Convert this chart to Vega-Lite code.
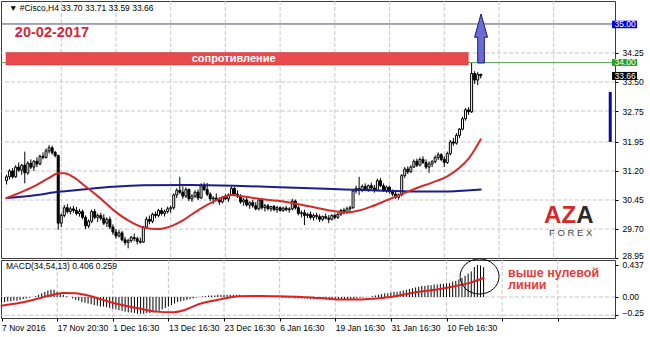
{
"$schema": "https://vega.github.io/schema/vega-lite/v6.json",
"background": "white",
"padding": {"left": 0, "top": 0, "right": 0, "bottom": 0},
"spacing": 2,
"bounds": "flush",
"config": {
 "view": {"stroke": "#3c3c3c", "strokeWidth": 1},
 "font": "Liberation Sans",
 "line": {"strokeJoin": "round", "strokeCap": "round"},
 "axis": {"labelFont": "Liberation Sans", "labelFontSize": 8.5, "labelColor": "#000", "grid": false, "tickColor": "#000", "tickSize": 3, "domain": false, "labelFlush": false, "labelOverlap": false, "labelBound": false}
},
"datasets": {
 "candles": [
{"i":0,"o":30.95,"h":31.10,"l":30.85,"c":31.05,"m":-0.07},
{"i":1,"o":31.05,"h":31.25,"l":30.98,"c":31.20,"m":-0.07},
{"i":2,"o":31.20,"h":31.28,"l":31.00,"c":31.05,"m":-0.06},
{"i":3,"o":31.05,"h":31.35,"l":31.02,"c":31.30,"m":-0.06},
{"i":4,"o":31.30,"h":31.42,"l":31.18,"c":31.22,"m":-0.05},
{"i":5,"o":31.22,"h":31.38,"l":31.10,"c":31.35,"m":-0.05},
{"i":6,"o":31.35,"h":31.70,"l":30.88,"c":31.15,"m":-0.04},
{"i":7,"o":31.15,"h":31.45,"l":31.10,"c":31.40,"m":-0.03},
{"i":8,"o":31.40,"h":31.50,"l":31.25,"c":31.30,"m":-0.02},
{"i":9,"o":31.30,"h":31.48,"l":31.20,"c":31.45,"m":-0.01},
{"i":10,"o":31.45,"h":31.55,"l":31.30,"c":31.38,"m":0.00},
{"i":11,"o":31.38,"h":31.62,"l":31.35,"c":31.58,"m":0.01},
{"i":12,"o":31.58,"h":31.68,"l":31.50,"c":31.55,"m":0.03},
{"i":13,"o":31.55,"h":31.78,"l":31.52,"c":31.72,"m":0.05},
{"i":14,"o":31.72,"h":31.87,"l":31.65,"c":31.80,"m":0.07},
{"i":15,"o":31.80,"h":31.85,"l":31.62,"c":31.68,"m":0.09},
{"i":16,"o":31.68,"h":31.72,"l":31.55,"c":31.60,"m":0.10},
{"i":17,"o":31.60,"h":31.62,"l":29.68,"c":29.85,"m":0.10},
{"i":18,"o":29.85,"h":30.10,"l":29.75,"c":30.05,"m":0.07},
{"i":19,"o":30.05,"h":30.32,"l":30.00,"c":30.25,"m":0.05},
{"i":20,"o":30.25,"h":30.35,"l":30.10,"c":30.15,"m":0.03},
{"i":21,"o":30.15,"h":30.28,"l":30.08,"c":30.22,"m":0.01},
{"i":22,"o":30.22,"h":30.30,"l":30.12,"c":30.18,"m":0.00},
{"i":23,"o":30.18,"h":30.27,"l":30.05,"c":30.10,"m":-0.02},
{"i":24,"o":30.10,"h":30.22,"l":30.02,"c":30.15,"m":-0.04},
{"i":25,"o":30.15,"h":30.20,"l":29.95,"c":30.00,"m":-0.05},
{"i":26,"o":30.00,"h":30.05,"l":29.70,"c":29.78,"m":-0.07},
{"i":27,"o":29.78,"h":29.95,"l":29.72,"c":29.90,"m":-0.08},
{"i":28,"o":29.90,"h":30.20,"l":29.85,"c":30.15,"m":-0.09},
{"i":29,"o":30.15,"h":30.22,"l":29.95,"c":30.00,"m":-0.10},
{"i":30,"o":30.00,"h":30.10,"l":29.88,"c":30.05,"m":-0.11},
{"i":31,"o":30.05,"h":30.12,"l":29.92,"c":29.98,"m":-0.12},
{"i":32,"o":29.98,"h":30.08,"l":29.80,"c":29.85,"m":-0.13},
{"i":33,"o":29.85,"h":30.00,"l":29.75,"c":29.95,"m":-0.13},
{"i":34,"o":29.95,"h":30.02,"l":29.70,"c":29.75,"m":-0.14},
{"i":35,"o":29.75,"h":29.82,"l":29.55,"c":29.62,"m":-0.15},
{"i":36,"o":29.62,"h":29.70,"l":29.45,"c":29.52,"m":-0.16},
{"i":37,"o":29.52,"h":29.68,"l":29.48,"c":29.60,"m":-0.17},
{"i":38,"o":29.60,"h":29.65,"l":29.38,"c":29.42,"m":-0.18},
{"i":39,"o":29.42,"h":29.50,"l":29.28,"c":29.35,"m":-0.19},
{"i":40,"o":29.35,"h":29.45,"l":29.20,"c":29.40,"m":-0.20},
{"i":41,"o":29.40,"h":29.52,"l":29.35,"c":29.48,"m":-0.21},
{"i":42,"o":29.48,"h":29.58,"l":29.38,"c":29.45,"m":-0.21},
{"i":43,"o":29.45,"h":29.50,"l":29.30,"c":29.38,"m":-0.22},
{"i":44,"o":29.38,"h":29.48,"l":29.32,"c":29.36,"m":-0.23},
{"i":45,"o":29.36,"h":29.78,"l":29.34,"c":29.75,"m":-0.23},
{"i":46,"o":29.75,"h":30.02,"l":29.70,"c":29.95,"m":-0.23},
{"i":47,"o":29.95,"h":30.05,"l":29.82,"c":29.90,"m":-0.22},
{"i":48,"o":29.90,"h":30.12,"l":29.85,"c":30.08,"m":-0.22},
{"i":49,"o":30.08,"h":30.15,"l":29.98,"c":30.05,"m":-0.21},
{"i":50,"o":30.05,"h":30.22,"l":30.00,"c":30.18,"m":-0.20},
{"i":51,"o":30.18,"h":30.25,"l":30.05,"c":30.10,"m":-0.19},
{"i":52,"o":30.10,"h":30.20,"l":30.02,"c":30.15,"m":-0.17},
{"i":53,"o":30.15,"h":30.28,"l":30.10,"c":30.22,"m":-0.15},
{"i":54,"o":30.22,"h":30.30,"l":30.12,"c":30.25,"m":-0.13},
{"i":55,"o":30.25,"h":30.62,"l":30.20,"c":30.58,"m":-0.11},
{"i":56,"o":30.58,"h":30.75,"l":30.50,"c":30.70,"m":-0.09},
{"i":57,"o":30.70,"h":31.05,"l":30.60,"c":30.65,"m":-0.07},
{"i":58,"o":30.65,"h":30.80,"l":30.48,"c":30.55,"m":-0.06},
{"i":59,"o":30.55,"h":30.78,"l":30.50,"c":30.72,"m":-0.05},
{"i":60,"o":30.72,"h":30.75,"l":30.42,"c":30.48,"m":-0.04},
{"i":61,"o":30.48,"h":30.60,"l":30.40,"c":30.55,"m":-0.03},
{"i":62,"o":30.55,"h":30.70,"l":30.50,"c":30.65,"m":-0.02},
{"i":63,"o":30.65,"h":30.72,"l":30.45,"c":30.50,"m":-0.01},
{"i":64,"o":30.50,"h":30.88,"l":30.48,"c":30.82,"m":0.00},
{"i":65,"o":30.82,"h":30.90,"l":30.68,"c":30.72,"m":0.01},
{"i":66,"o":30.72,"h":30.89,"l":30.55,"c":30.60,"m":0.01},
{"i":67,"o":30.60,"h":30.65,"l":30.42,"c":30.48,"m":0.02},
{"i":68,"o":30.48,"h":30.55,"l":30.35,"c":30.50,"m":0.02},
{"i":69,"o":30.50,"h":30.62,"l":30.42,"c":30.45,"m":0.02},
{"i":70,"o":30.45,"h":30.52,"l":30.32,"c":30.40,"m":0.03},
{"i":71,"o":30.40,"h":30.55,"l":30.36,"c":30.52,"m":0.03},
{"i":72,"o":30.52,"h":30.60,"l":30.45,"c":30.48,"m":0.03},
{"i":73,"o":30.48,"h":30.62,"l":30.40,"c":30.58,"m":0.03},
{"i":74,"o":30.58,"h":30.80,"l":30.55,"c":30.75,"m":0.03},
{"i":75,"o":30.75,"h":30.78,"l":30.55,"c":30.60,"m":0.03},
{"i":76,"o":30.60,"h":30.70,"l":30.50,"c":30.55,"m":0.03},
{"i":77,"o":30.55,"h":30.60,"l":30.35,"c":30.40,"m":0.03},
{"i":78,"o":30.40,"h":30.50,"l":30.30,"c":30.45,"m":0.02},
{"i":79,"o":30.45,"h":30.52,"l":30.28,"c":30.32,"m":0.02},
{"i":80,"o":30.32,"h":30.42,"l":30.22,"c":30.38,"m":0.02},
{"i":81,"o":30.38,"h":30.45,"l":30.25,"c":30.30,"m":0.02},
{"i":82,"o":30.30,"h":30.40,"l":30.18,"c":30.22,"m":0.02},
{"i":83,"o":30.22,"h":30.48,"l":30.18,"c":30.45,"m":0.01},
{"i":84,"o":30.45,"h":30.50,"l":30.20,"c":30.25,"m":0.01},
{"i":85,"o":30.25,"h":30.35,"l":30.15,"c":30.30,"m":0.01},
{"i":86,"o":30.30,"h":30.35,"l":30.18,"c":30.22,"m":0.01},
{"i":87,"o":30.22,"h":30.30,"l":30.15,"c":30.28,"m":0.01},
{"i":88,"o":30.28,"h":30.32,"l":30.16,"c":30.20,"m":0.00},
{"i":89,"o":30.20,"h":30.30,"l":30.12,"c":30.25,"m":0.00},
{"i":90,"o":30.25,"h":30.28,"l":30.15,"c":30.18,"m":0.00},
{"i":91,"o":30.18,"h":30.28,"l":30.14,"c":30.24,"m":-0.01},
{"i":92,"o":30.24,"h":30.30,"l":30.16,"c":30.20,"m":-0.01},
{"i":93,"o":30.20,"h":30.26,"l":30.12,"c":30.22,"m":-0.01},
{"i":94,"o":30.22,"h":30.48,"l":30.18,"c":30.42,"m":-0.01},
{"i":95,"o":30.42,"h":30.46,"l":30.20,"c":30.25,"m":-0.02},
{"i":96,"o":30.25,"h":30.30,"l":30.05,"c":30.10,"m":-0.02},
{"i":97,"o":30.10,"h":30.18,"l":30.00,"c":30.12,"m":-0.02},
{"i":98,"o":30.12,"h":30.20,"l":29.80,"c":30.05,"m":-0.02},
{"i":99,"o":30.05,"h":30.12,"l":29.98,"c":30.08,"m":-0.02},
{"i":100,"o":30.08,"h":30.15,"l":29.95,"c":30.00,"m":-0.03},
{"i":101,"o":30.00,"h":30.10,"l":29.92,"c":30.05,"m":-0.03},
{"i":102,"o":30.05,"h":30.12,"l":29.95,"c":30.02,"m":-0.03},
{"i":103,"o":30.02,"h":30.08,"l":29.88,"c":29.95,"m":-0.03},
{"i":104,"o":29.95,"h":30.05,"l":29.90,"c":30.02,"m":-0.03},
{"i":105,"o":30.02,"h":30.10,"l":29.95,"c":29.98,"m":-0.03},
{"i":106,"o":29.98,"h":30.06,"l":29.85,"c":29.95,"m":-0.03},
{"i":107,"o":29.95,"h":30.08,"l":29.92,"c":30.05,"m":-0.04},
{"i":108,"o":30.05,"h":30.10,"l":29.95,"c":30.00,"m":-0.04},
{"i":109,"o":30.00,"h":30.12,"l":29.96,"c":30.08,"m":-0.04},
{"i":110,"o":30.08,"h":30.22,"l":30.04,"c":30.18,"m":-0.04},
{"i":111,"o":30.18,"h":30.25,"l":30.08,"c":30.12,"m":-0.04},
{"i":112,"o":30.12,"h":30.28,"l":30.10,"c":30.22,"m":-0.04},
{"i":113,"o":30.22,"h":30.30,"l":30.15,"c":30.25,"m":-0.03},
{"i":114,"o":30.25,"h":30.72,"l":30.22,"c":30.68,"m":-0.03},
{"i":115,"o":30.68,"h":30.82,"l":30.62,"c":30.75,"m":-0.02},
{"i":116,"o":30.75,"h":31.05,"l":30.58,"c":30.70,"m":-0.01},
{"i":117,"o":30.70,"h":30.85,"l":30.65,"c":30.80,"m":-0.01},
{"i":118,"o":30.80,"h":30.88,"l":30.68,"c":30.72,"m":0.00},
{"i":119,"o":30.72,"h":30.85,"l":30.66,"c":30.82,"m":0.00},
{"i":120,"o":30.82,"h":30.90,"l":30.72,"c":30.76,"m":0.01},
{"i":121,"o":30.76,"h":30.84,"l":30.64,"c":30.70,"m":0.02},
{"i":122,"o":30.70,"h":31.00,"l":30.68,"c":30.95,"m":0.03},
{"i":123,"o":30.95,"h":31.02,"l":30.78,"c":30.82,"m":0.04},
{"i":124,"o":30.82,"h":30.88,"l":30.66,"c":30.70,"m":0.05},
{"i":125,"o":30.70,"h":30.82,"l":30.64,"c":30.78,"m":0.05},
{"i":126,"o":30.78,"h":30.82,"l":30.62,"c":30.66,"m":0.06},
{"i":127,"o":30.66,"h":30.72,"l":30.55,"c":30.60,"m":0.07},
{"i":128,"o":30.60,"h":30.66,"l":30.48,"c":30.52,"m":0.07},
{"i":129,"o":30.52,"h":30.62,"l":30.46,"c":30.58,"m":0.08},
{"i":130,"o":30.58,"h":31.12,"l":30.55,"c":31.08,"m":0.09},
{"i":131,"o":31.08,"h":31.30,"l":31.02,"c":31.25,"m":0.10},
{"i":132,"o":31.25,"h":31.32,"l":31.12,"c":31.18,"m":0.11},
{"i":133,"o":31.18,"h":31.35,"l":31.15,"c":31.30,"m":0.12},
{"i":134,"o":31.30,"h":31.50,"l":31.28,"c":31.45,"m":0.13},
{"i":135,"o":31.45,"h":31.52,"l":31.30,"c":31.35,"m":0.14},
{"i":136,"o":31.35,"h":31.55,"l":31.32,"c":31.50,"m":0.15},
{"i":137,"o":31.50,"h":31.58,"l":31.38,"c":31.42,"m":0.15},
{"i":138,"o":31.42,"h":31.50,"l":31.25,"c":31.30,"m":0.16},
{"i":139,"o":31.30,"h":31.45,"l":31.15,"c":31.38,"m":0.16},
{"i":140,"o":31.38,"h":31.48,"l":31.30,"c":31.44,"m":0.17},
{"i":141,"o":31.44,"h":31.60,"l":31.40,"c":31.55,"m":0.17},
{"i":142,"o":31.55,"h":31.68,"l":31.48,"c":31.62,"m":0.18},
{"i":143,"o":31.62,"h":31.66,"l":31.45,"c":31.50,"m":0.18},
{"i":144,"o":31.50,"h":31.58,"l":31.30,"c":31.42,"m":0.19},
{"i":145,"o":31.42,"h":31.70,"l":31.38,"c":31.65,"m":0.19},
{"i":146,"o":31.65,"h":32.00,"l":31.60,"c":31.95,"m":0.21},
{"i":147,"o":31.95,"h":32.05,"l":31.85,"c":31.92,"m":0.22},
{"i":148,"o":31.92,"h":32.18,"l":31.88,"c":32.12,"m":0.24},
{"i":149,"o":32.12,"h":32.31,"l":32.05,"c":32.28,"m":0.26},
{"i":150,"o":32.28,"h":32.60,"l":32.25,"c":32.55,"m":0.29},
{"i":151,"o":32.55,"h":32.83,"l":32.50,"c":32.78,"m":0.32},
{"i":152,"o":32.78,"h":32.85,"l":32.65,"c":32.73,"m":0.35},
{"i":153,"o":32.73,"h":33.99,"l":32.70,"c":33.72,"m":0.41},
{"i":154,"o":33.72,"h":33.78,"l":33.45,"c":33.55,"m":0.437},
{"i":155,"o":33.55,"h":33.75,"l":33.42,"c":33.70,"m":0.43},
{"i":156,"o":33.70,"h":33.71,"l":33.59,"c":33.66,"m":0.406}
 ],
 "fast": [
{"i":0,"v":30.50},{"i":5,"v":30.66},{"i":10,"v":30.84},{"i":14,"v":31.02},{"i":17,"v":31.14},{"i":19,"v":31.14},{"i":22,"v":31.04},{"i":26,"v":30.80},{"i":30,"v":30.55},{"i":35,"v":30.20},{"i":40,"v":29.92},{"i":45,"v":29.74},{"i":50,"v":29.70},{"i":55,"v":29.80},{"i":58,"v":29.92},{"i":61,"v":30.08},{"i":65,"v":30.28},{"i":70,"v":30.48},{"i":74,"v":30.58},{"i":78,"v":30.54},{"i":85,"v":30.46},{"i":92,"v":30.40},{"i":100,"v":30.28},{"i":108,"v":30.16},{"i":112,"v":30.13},{"i":116,"v":30.18},{"i":120,"v":30.28},{"i":125,"v":30.44},{"i":130,"v":30.60},{"i":135,"v":30.76},{"i":140,"v":30.90},{"i":145,"v":31.06},{"i":149,"v":31.28},{"i":152,"v":31.52},{"i":154,"v":31.75},{"i":156,"v":32.02}
 ],
 "slow": [
{"i":0,"v":30.50},{"i":10,"v":30.58},{"i":17,"v":30.66},{"i":25,"v":30.72},{"i":35,"v":30.79},{"i":45,"v":30.83},{"i":60,"v":30.84},{"i":75,"v":30.82},{"i":90,"v":30.78},{"i":105,"v":30.74},{"i":120,"v":30.70},{"i":135,"v":30.67},{"i":145,"v":30.67},{"i":150,"v":30.69},{"i":156,"v":30.72}
 ],
 "signal": [
{"i":0,"v":-0.12},{"i":6,"v":-0.08},{"i":12,"v":-0.02},{"i":17,"v":0.035},{"i":20,"v":0.055},{"i":24,"v":0.05},{"i":27,"v":0.03},{"i":32,"v":-0.03},{"i":38,"v":-0.10},{"i":45,"v":-0.16},{"i":50,"v":-0.20},{"i":55,"v":-0.21},{"i":59,"v":-0.18},{"i":64,"v":-0.095},{"i":71,"v":-0.03},{"i":77,"v":0.01},{"i":84,"v":0.015},{"i":90,"v":0.01},{"i":97,"v":0.0},{"i":103,"v":-0.015},{"i":110,"v":-0.035},{"i":116,"v":-0.035},{"i":121,"v":-0.02},{"i":126,"v":0.0},{"i":131,"v":0.04},{"i":135,"v":0.07},{"i":142,"v":0.11},{"i":147,"v":0.15},{"i":152,"v":0.20},{"i":156,"v":0.259}
 ],
 "xgrid": [{"t":18},{"t":36},{"t":54},{"t":72},{"t":90},{"t":108},{"t":126},{"t":144},{"t":162},{"t":180}]
},
"vconcat": [
 {
  "width": 614,
  "height": 257,
  "layer": [
   {
    "data": {"values": [{"p": 34.25}, {"p": 33.5}, {"p": 32.75}, {"p": 31.95}, {"p": 31.2}, {"p": 30.45}, {"p": 29.7}]},
    "mark": {"type": "rule", "color": "#c8c8c8", "strokeWidth": 1, "strokeDash": [4, 2]},
    "encoding": {"y": {"field": "p", "type": "quantitative", "title": null, "scale": {"domain": [28.95, 35.594], "nice": false, "zero": false}, "axis": {"orient": "right", "title": null, "values": [34.25, 33.5, 32.75, 31.95, 31.2, 30.45, 29.7, 28.95], "tickCount": 30, "format": ".2f", "labelPadding": 4, "labelOverlap": false, "labelBaseline": {"condition": {"test": "datum.value < 29", "value": "alphabetic"}, "value": "middle"}}}}
   },
   {
    "data": {"name": "xgrid"},
    "mark": {"type": "rule", "color": "#c8c8c8", "strokeWidth": 1, "strokeDash": [4, 2]},
    "encoding": {"x": {"field": "t", "type": "quantitative", "title": null, "scale": {"domain": [-0.176, 198.524], "nice": false, "zero": false}, "axis": {"orient": "bottom", "title": null, "values": [0, 18, 36, 54, 72, 90, 108, 126, 144, 162, 180], "tickCount": 30, "labels": false, "ticks": false, "labelOverlap": false}}}
   },
   {
    "data": {"values": [{}]},
    "mark": {"type": "rule", "color": "#4a4a7a", "strokeWidth": 1},
    "encoding": {"y": {"datum": 35.0, "type": "quantitative", "title": null}}
   },
   {
    "data": {"values": [{}]},
    "mark": {"type": "rule", "color": "#4a9a4a", "strokeWidth": 1},
    "encoding": {"y": {"datum": 34.0, "type": "quantitative", "title": null}}
   },
   {
    "data": {"values": [{}]},
    "mark": {"type": "rect", "color": "#e84a4e", "stroke": "#c83038", "strokeWidth": 0.5},
    "encoding": {
     "x": {"datum": -0.176, "type": "quantitative", "title": null},
     "x2": {"datum": 151.9},
     "y": {"datum": 33.94, "type": "quantitative", "title": null},
     "y2": {"datum": 34.26}
    }
   },
   {
    "data": {"name": "candles"},
    "mark": {"type": "rule", "color": "#000", "strokeWidth": 1},
    "encoding": {
     "x": {"field": "i", "type": "quantitative", "title": null},
     "y": {"field": "l", "type": "quantitative", "title": null},
     "y2": {"field": "h"}
    }
   },
   {
    "data": {"name": "candles"},
    "mark": {"type": "bar", "size": 2, "orient": "vertical", "stroke": "#000", "strokeWidth": 1},
    "encoding": {
     "x": {"field": "i", "type": "quantitative", "title": null},
     "y": {"field": "o", "type": "quantitative", "title": null},
     "y2": {"field": "c"},
     "fill": {"condition": {"test": "datum.c >= datum.o", "value": "#ffffff"}, "value": "#000000"}
    }
   },
   {
    "data": {"name": "slow"},
    "mark": {"type": "line", "color": "#1c1c8c", "strokeWidth": 2, "interpolate": "monotone", "strokeJoin": "round"},
    "encoding": {
     "x": {"field": "i", "type": "quantitative", "title": null},
     "y": {"field": "v", "type": "quantitative", "title": null}
    }
   },
   {
    "data": {"name": "fast"},
    "mark": {"type": "line", "color": "#d42a2a", "strokeWidth": 2, "interpolate": "monotone", "strokeJoin": "round"},
    "encoding": {
     "x": {"field": "i", "type": "quantitative", "title": null},
     "y": {"field": "v", "type": "quantitative", "title": null}
    }
   },
   {
    "data": {"values": [{}]},
    "mark": {"type": "point", "shape": "M 0 -1 L 0.265 -0.05 L 0.135 -0.05 L 0.135 1 L -0.135 1 L -0.135 -0.05 L -0.265 -0.05 Z", "size": 2401, "filled": true, "fill": "#6b6bd6", "stroke": "#1c1c70", "strokeWidth": 1, "opacity": 1},
    "encoding": {
     "x": {"datum": 156.1, "type": "quantitative", "title": null},
     "y": {"datum": 34.625, "type": "quantitative", "title": null}
    }
   },
   {
    "data": {"values": [{}]},
    "mark": {"type": "text", "align": "left", "baseline": "middle", "fontSize": 8.5, "color": "#000"},
    "encoding": {
     "x": {"datum": 0.8, "type": "quantitative", "title": null},
     "y": {"datum": 35.405, "type": "quantitative", "title": null},
     "text": {"value": "▼ #Cisco,H4  33.70 33.71 33.59 33.66"}
    }
   },
   {
    "data": {"values": [{}]},
    "mark": {"type": "text", "align": "left", "baseline": "middle", "fontSize": 14.5, "fontWeight": "bold", "color": "#d2283c"},
    "encoding": {
     "x": {"datum": 2.74, "type": "quantitative", "title": null},
     "y": {"datum": 34.767, "type": "quantitative", "title": null},
     "text": {"value": "20-02-2017"}
    }
   },
   {
    "data": {"values": [{}]},
    "mark": {"type": "text", "align": "center", "baseline": "middle", "fontSize": 11, "fontWeight": "bold", "color": "#ffffff"},
    "encoding": {
     "x": {"datum": 74.7, "type": "quantitative", "title": null},
     "y": {"datum": 34.1, "type": "quantitative", "title": null},
     "text": {"value": "сопротивление"}
    }
   },
   {
    "data": {"values": [{}]},
    "mark": {"type": "text", "align": "left", "baseline": "alphabetic", "fontSize": 24, "fontWeight": "bold", "color": "#d12a2a"},
    "encoding": {
     "x": {"datum": 176.85, "type": "quantitative", "title": null},
     "y": {"datum": 29.86, "type": "quantitative", "title": null},
     "text": {"value": "AZ"}
    }
   },
   {
    "data": {"values": [{}]},
    "mark": {"type": "text", "align": "left", "baseline": "alphabetic", "fontSize": 24, "fontWeight": "bold", "color": "#2b2b2b"},
    "encoding": {
     "x": {"datum": 187.4, "type": "quantitative", "title": null},
     "y": {"datum": 29.86, "type": "quantitative", "title": null},
     "text": {"value": "A"}
    }
   },
   {
    "data": {"values": [{}]},
    "mark": {"type": "text", "align": "center", "baseline": "middle", "fontSize": 9.5, "color": "#444444"},
    "encoding": {
     "x": {"datum": 185.6, "type": "quantitative", "title": null},
     "y": {"datum": 29.585, "type": "quantitative", "title": null},
     "text": {"value": "F O R E X"}
    }
   },
   {
    "data": {"values": [{"label": "35.00", "lo": 34.89, "hi": 35.085, "mid": 34.99, "col": "#0000e0"}, {"label": "34.00", "lo": 33.915, "hi": 34.095, "mid": 34.005, "col": "#22a022"}, {"label": "33.66", "lo": 33.553, "hi": 33.76, "mid": 33.656, "col": "#000000"}]},
    "layer": [
     {
      "mark": {"type": "rect"},
      "encoding": {
       "x": {"datum": 199.2, "type": "quantitative", "title": null},
       "x2": {"datum": 207.4},
       "y": {"field": "lo", "type": "quantitative", "title": null},
       "y2": {"field": "hi"},
       "color": {"field": "col", "type": "nominal", "scale": null}
      }
     },
     {
      "mark": {"type": "text", "align": "left", "baseline": "middle", "fontSize": 8.5, "color": "#ffffff"},
      "encoding": {
       "x": {"datum": 200.0, "type": "quantitative", "title": null},
       "y": {"field": "mid", "type": "quantitative", "title": null},
       "text": {"field": "label"}
      }
     }
    ]
   },
   {
    "data": {"values": [{}]},
    "mark": {"type": "rule", "color": "#0a0aa0", "strokeWidth": 3},
    "encoding": {
     "x": {"datum": 198.6, "type": "quantitative", "title": null},
     "y": {"datum": 31.95, "type": "quantitative", "title": null},
     "y2": {"datum": 33.243}
    }
   }
  ]
 },
 {
  "width": 614,
  "height": 58,
  "layer": [
   {
    "data": {"values": [{"v": 0}, {"v": -0.25}]},
    "mark": {"type": "rule", "color": "#c8c8c8", "strokeWidth": 1, "strokeDash": [4, 2]},
    "encoding": {"y": {"field": "v", "type": "quantitative", "title": null, "scale": {"domain": [-0.287, 0.505], "nice": false, "zero": false}, "axis": {"orient": "right", "title": null, "values": [0.437, 0, -0.25], "tickCount": 30, "labelOverlap": false, "labelPadding": 4, "labelBaseline": {"condition": {"test": "datum.value < 0", "value": "alphabetic"}, "value": "middle"}, "labelExpr": "datum.value == 0.437 ? '0.437' : format(datum.value, '.2f')"}}}
   },
   {
    "data": {"name": "xgrid"},
    "mark": {"type": "rule", "color": "#c8c8c8", "strokeWidth": 1, "strokeDash": [4, 2]},
    "encoding": {"x": {"field": "t", "type": "quantitative", "title": null, "scale": {"domain": [-0.176, 198.524], "nice": false, "zero": false}, "axis": {"orient": "bottom", "title": null, "values": [0, 18, 36, 54, 72, 90, 108, 126, 144, 162, 180], "tickCount": 30, "labelOverlap": false, "labelAlign": "left", "labelPadding": 2, "labelExpr": "['7 Nov 2016','17 Nov 20:30','1 Dec 16:30','13 Dec 16:30','23 Dec 16:30','6 Jan 16:30','19 Jan 16:30','31 Jan 16:30','10 Feb 16:30'][round(datum.value/18)] || ''"}}}
   },
   {
    "data": {"name": "candles"},
    "mark": {"type": "rule", "color": "#000", "strokeWidth": 1},
    "encoding": {
     "x": {"field": "i", "type": "quantitative", "title": null},
     "y": {"field": "m", "type": "quantitative", "title": null},
     "y2": {"datum": 0}
    }
   },
   {
    "data": {"name": "signal"},
    "mark": {"type": "line", "color": "#e02020", "strokeWidth": 2, "interpolate": "monotone", "strokeJoin": "round"},
    "encoding": {
     "x": {"field": "i", "type": "quantitative", "title": null},
     "y": {"field": "v", "type": "quantitative", "title": null}
    }
   },
   {
    "data": {"values": [{}]},
    "mark": {"type": "point", "shape": "M -1 0 A 1 0.9 0 1 1 1 0 A 1 0.9 0 1 1 -1 0 Z", "size": 1521, "filled": false, "stroke": "#000", "strokeWidth": 1, "opacity": 1},
    "encoding": {
     "x": {"datum": 154.7, "type": "quantitative", "title": null},
     "y": {"datum": 0.28, "type": "quantitative", "title": null}
    }
   },
   {
    "data": {"values": [{}]},
    "mark": {"type": "text", "align": "left", "baseline": "middle", "fontSize": 8.5, "color": "#000"},
    "encoding": {
     "x": {"datum": 1.44, "type": "quantitative", "title": null},
     "y": {"datum": 0.423, "type": "quantitative", "title": null},
     "text": {"value": "MACD(34,54,13) 0.406 0.259"}
    }
   },
   {
    "data": {"values": [{"t": "выше нулевой", "v": 0.334}, {"t": "линии", "v": 0.157}]},
    "mark": {"type": "text", "align": "left", "baseline": "middle", "fontSize": 12.5, "fontWeight": "bold", "color": "#e03c3c"},
    "encoding": {
     "x": {"datum": 163.9, "type": "quantitative", "title": null},
     "y": {"field": "v", "type": "quantitative", "title": null},
     "text": {"field": "t"}
    }
   }
  ]
 }
]
}
